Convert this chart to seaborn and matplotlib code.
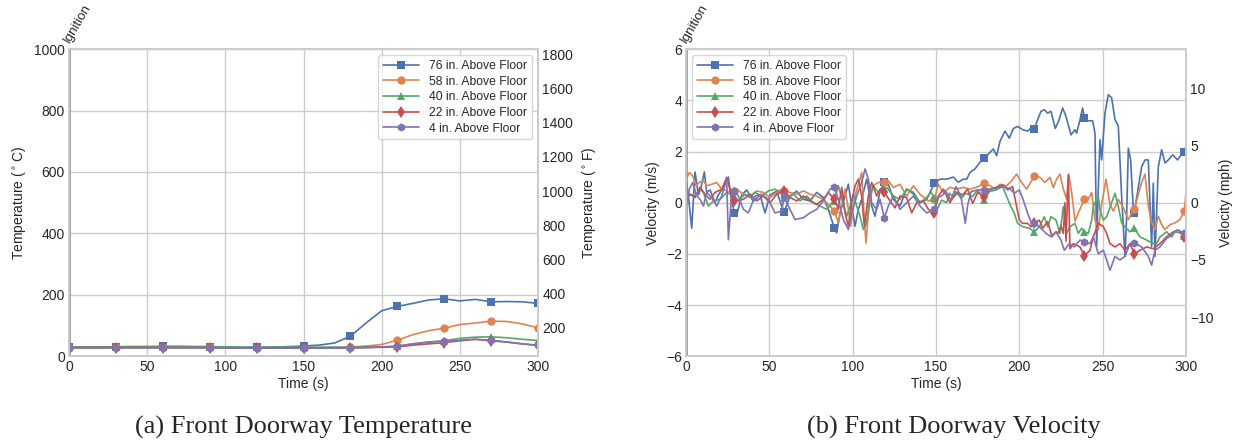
import numpy as np
import pandas as pd
import matplotlib
matplotlib.use("Agg")
import matplotlib.pyplot as plt
import seaborn as sns

sns.set_theme(style="whitegrid")
plt.rcParams['font.family'] = ['Liberation Sans', 'DejaVu Sans']

LABELS = ["76 in. Above Floor", "58 in. Above Floor", "40 in. Above Floor",
          "22 in. Above Floor", "4 in. Above Floor"]
MARKERS = ["s", "o", "^", "d", "h"]
COLORS = sns.color_palette("deep")[:5]

# ---------------- Temperature data (deg C), every 10 s ----------------
TEMP_TIME = list(range(0, 301, 10))
T76 = [30, 30, 30, 31, 31, 31, 32, 32, 31, 31, 30, 29, 29, 30, 31, 33, 36, 43, 65,
       108, 148, 162, 172, 183, 187, 180, 185, 177, 178, 177, 172]
T58 = [28, 28, 28, 29, 29, 29, 29, 29, 29, 29, 28, 27, 27, 28, 28, 28, 28, 29, 30,
       33, 38, 52, 70, 83, 91, 103, 108, 114, 113, 105, 92]
T40 = [30, 30, 30, 30, 31, 31, 31, 31, 31, 31, 30, 29, 29, 29, 29, 29, 29, 29, 29,
       30, 30, 33, 40, 46, 50, 58, 62, 63, 60, 55, 51]
T22 = [28, 28, 28, 28, 28, 28, 28, 28, 28, 28, 27, 27, 27, 27, 27, 27, 27, 27, 27,
       28, 29, 30, 36, 40, 44, 50, 55, 50, 46, 40, 35]
T4 = [27, 27, 27, 27, 27, 27, 27, 27, 27, 27, 27, 26, 26, 26, 26, 26, 26, 26, 27,
      28, 30, 32, 40, 46, 49, 52, 55, 52, 46, 40, 36]
TEMPS = [T76, T58, T40, T22, T4]

# ---------------- Velocity data (m/s), (time s, value) ----------------
V76 = [(0, 0.9), (1.5, 0.2), (3.4, -1.0), (5.4, 1.2), (7.4, 0.3), (9, 0.6), (11, 1.2),
       (12.4, 0.4), (14.4, 0.5), (17.4, 0.0), (19.4, 0.3), (22.4, 0.6), (25.4, 1.0),
       (27, 0.2), (29, -0.42), (30.4, -0.5), (33.4, 0.3), (36.4, 0.5), (40.4, 0.05),
       (44.4, 0.3), (47.4, -0.4), (50.4, 0.3), (54.4, 0.45), (57.4, -0.13), (59, -0.36),
       (62.4, 0.26), (66.4, 0.45), (70.4, 0.13), (74.4, 0.07), (78.4, 0.4), (82.4, 0.2),
       (85.4, -0.26), (89, -1.0), (90.4, -1.18), (92.4, -0.4), (95.4, 0.26), (97.4, 0.72),
       (99.4, -0.13), (101.4, -0.92), (103.4, -0.26), (105.4, 0.13), (108.4, 0.92),
       (111.4, -0.13), (113.4, -0.53), (116.4, 0.46), (119, 0.79), (121.4, 0.72),
       (124.4, 0.13), (128.4, -0.13), (132.4, 0.53), (136.4, 0.4), (140.4, 0.0),
       (144.4, 0.13), (149, 0.76), (152.4, 0.92), (156.4, 0.92), (160.4, 1.0),
       (163.4, 0.8), (166.4, 0.92), (168.4, 0.92), (170.4, 1.18), (173.4, 1.32),
       (176.4, 1.58), (179, 1.74), (181.4, 1.9), (184.4, 2.1), (186.4, 1.84),
       (188.4, 2.4), (191.4, 2.8), (194, 2.52), (196.4, 2.9), (199, 2.98), (202, 2.85),
       (205, 2.8), (207, 2.92), (209, 2.88), (211, 3.25), (213, 3.57), (215, 3.63),
       (217, 3.5), (219, 3.57), (221.6, 2.9), (223.6, 3.2), (226, 3.7), (228, 3.37),
       (230, 2.9), (231, 2.65), (233.4, 2.85), (234.4, 2.72), (236.4, 3.24), (238, 3.7),
       (239, 3.3), (241.4, 3.2), (244, 3.2), (245.4, 2.7), (246.4, -1.72), (247.4, 0.6),
       (248.4, 2.46), (249.4, 1.67), (251.4, 3.5), (253.4, 4.22), (255.4, 4.1),
       (257.4, 3.24), (259.4, 3.0), (261.4, 0.24), (263.4, -2.1), (264.4, -0.5),
       (265.4, 2.13), (266.8, 1.67), (268.4, -0.3), (269, -0.4), (271.4, 0.6),
       (273.4, 1.4), (275.4, 1.67), (277.4, 1.67), (279.4, -1.72), (280.4, 0.76),
       (281.4, -2.1), (283.4, 1.4), (285.4, 2.07), (287.4, 1.55), (289.4, 1.67),
       (292, 1.87), (295, 1.67), (297, 1.87), (299, 2.0), (300, 2.2)]

V58 = [(0, 0.92), (2, 1.18), (4, 1.05), (6, 0.66), (8, 0.8), (10.4, 0.86), (12.4, 0.66),
       (15.4, 0.72), (18.4, 0.79), (21.4, 0.53), (24.4, 0.46), (27.4, 0.4), (29, 0.45),
       (30.4, 0.53), (34.4, 0.33), (38.4, 0.26), (42.4, 0.46), (46.4, 0.4), (50.4, 0.2),
       (54.4, 0.4), (56.4, 0.5), (59, 0.45), (62.4, 0.4), (66.4, 0.33), (70.4, 0.46),
       (74.4, 0.33), (78.4, 0.26), (82.4, 0.13), (86.4, -0.13), (89, -0.34), (91.4, -0.79),
       (93.4, -0.13), (95.4, 0.53), (97.4, -0.26), (98.8, -0.92), (101.4, 0.26),
       (105.4, 1.18), (106.4, 0.0), (107.4, -1.05), (108, -1.58), (109.4, -0.4),
       (112, 0.66), (115.4, 0.79), (119, 0.82), (121.4, 0.86), (124.4, 0.6), (128.4, 0.72),
       (132.4, 0.26), (136.4, 0.66), (140.4, 0.33), (145.4, 0.07), (149, 0.13),
       (151.4, 0.72), (154.4, 0.4), (158.4, 0.6), (162.4, 0.53), (166.4, 0.6),
       (170.4, 0.53), (174.4, 0.6), (179, 0.76), (182.4, 0.66), (185.4, 0.53),
       (188.4, 0.72), (192.4, 0.66), (195.4, 0.86), (198.4, 1.12), (201.4, 0.79),
       (204.4, 0.53), (207.4, 0.86), (209, 1.05), (212.4, 0.99), (215.4, 0.79),
       (218.4, 0.99), (220.4, 0.59), (222.4, 0.92), (224.4, 1.12), (226.4, 0.53),
       (228.4, 0.13), (229.6, 1.12), (231.4, 0.4), (233.4, -0.72), (235.4, -0.4),
       (239, 0.13), (241.4, 0.13), (243.4, 0.4), (245.4, -0.66), (247.4, -1.05),
       (249.4, -0.07), (252, 0.92), (254.4, -0.07), (256.4, -0.33), (259.4, 0.13),
       (262.4, -0.2), (265.4, -0.66), (267.4, -0.4), (269, -0.26), (271.4, 0.33),
       (273.4, 0.79), (275.4, 1.12), (277.4, -0.13), (279.4, -0.79), (281.4, -1.05),
       (283.4, -0.53), (285.4, -0.86), (287.4, -1.05), (290.4, -0.86), (293.4, -0.79),
       (296.4, -0.66), (299, -0.33), (300, 0.4)]

V40 = [(0, 0.07), (2.4, 0.33), (5.4, 0.26), (8.4, 0.53), (10.4, 0.4), (13.4, -0.13),
       (16.4, 0.07), (20.4, 0.13), (24.4, 0.4), (29, 0.26), (31.4, 0.07), (35.4, 0.33),
       (38.4, 0.2), (41.4, 0.4), (45.4, 0.26), (49.4, 0.46), (53.4, 0.53), (56.4, 0.4),
       (59, 0.2), (60.4, 0.13), (64.4, 0.33), (68.4, 0.07), (72.4, 0.26), (76.4, 0.0),
       (80.4, -0.13), (84.4, -0.26), (89, 0.07), (91.4, 0.66), (94.4, -0.07),
       (96.4, -0.53), (98.4, -0.13), (100.4, 0.33), (102.4, -0.13), (104.4, -0.53),
       (106.4, -1.05), (108.4, -0.79), (110.4, 0.26), (112.4, 0.66), (115.4, 0.4),
       (119, 0.53), (120.4, 0.6), (124.4, 0.26), (128.4, 0.13), (132.4, 0.53),
       (136.4, 0.33), (140.4, 0.0), (144.4, 0.2), (147, 0.4), (149, 0.2), (150.4, -0.29),
       (153.4, 0.1), (156.4, 0.0), (158, 0.37), (160, 0.24), (162, 0.43), (165, 0.17),
       (168, 0.37), (172, 0.24), (175, 0.5), (179, 0.1), (182, 0.43), (186, 0.5),
       (190, 0.63), (192, 0.3), (195, -0.16), (197, -0.42), (199, -0.81), (202, -0.94),
       (206, -1.0), (209, -1.14), (212, -0.94), (215, -0.55), (217, -0.94), (219, -0.55),
       (222, -0.68), (224.4, -1.2), (226.4, -0.15), (228.4, -1.2), (230.4, -0.94),
       (233.4, -0.81), (235.4, -1.2), (237.4, -1.0), (239, -1.14), (241.4, -1.2),
       (243.4, -0.68), (244.4, -0.15), (246, 0.1), (247.4, 0.23), (248.4, -0.29),
       (250.4, -0.68), (252.4, -0.55), (255.4, 0.0), (257.4, 0.37), (259.4, -0.15),
       (261.4, -0.8), (263.4, -0.94), (266.4, -1.14), (269, -1.0), (272.4, -1.34),
       (276.4, -1.46), (280.4, -1.6), (282.4, -1.6), (284.4, -1.34), (288.4, -1.14),
       (291.4, -1.34), (293.4, -1.14), (297.4, -1.2), (299, -1.3), (300, -1.34)]

V22 = [(0, 0.2), (2.4, 0.33), (5.4, 0.2), (8.4, 0.6), (11.4, 0.33), (14.4, 0.13),
       (17.4, 0.4), (21.4, 0.53), (24.4, 0.99), (27.4, 0.26), (29, 0.07), (30.4, 0.07),
       (34.4, 0.13), (38.4, 0.33), (42.4, 0.07), (46.4, 0.26), (50.4, 0.0), (54.4, 0.33),
       (58.4, 0.46), (59, 0.45), (62.4, 0.2), (66.4, 0.07), (70.4, 0.26), (74.4, 0.07),
       (78.4, -0.07), (82.4, 0.13), (85.4, 0.4), (89, 0.13), (91.4, -0.26), (93.4, 0.6),
       (95.4, -0.4), (97.4, -0.92), (99.4, 0.0), (101.4, 0.66), (103.4, 0.92),
       (105.4, 0.26), (107, -0.92), (109.4, 0.26), (111.4, 0.79), (114.4, 0.26),
       (116.4, 0.53), (119, 0.4), (122.4, 0.07), (125.4, -0.2), (128.4, 0.26),
       (132.4, 0.2), (135.4, -0.4), (138.4, 0.0), (142.4, 0.07), (145.4, -0.26),
       (149, -0.4), (151.4, 0.26), (154.4, 0.53), (158.4, 0.0), (160, 0.17),
       (163, 0.4), (166, 0.3), (169, 0.53), (172, -0.03), (175, 0.4), (179, 0.24),
       (182, 0.5), (186, 0.6), (190, 0.69), (193, 0.5), (196, 0.63), (198, -0.03),
       (200, -0.68), (202, -0.81), (205, -0.81), (207, -0.94), (209, -0.81),
       (212, -0.68), (214, -1.0), (217, -0.74), (219.6, -1.33), (222, -1.14),
       (223.4, -1.18), (225, -0.9), (226.4, -1.2), (227.4, 0.0), (228, -1.5),
       (229.4, 1.08), (230.4, -1.8), (232.4, -1.6), (236.4, -1.73), (239, -2.08),
       (242.4, -1.86), (244.4, -1.33), (247.4, -0.8), (250.4, -0.94), (252.4, -1.2),
       (254.4, -1.6), (257.4, -1.73), (260.4, -1.6), (263.4, -1.86), (266.4, -1.6),
       (269, -2.0), (272.4, -1.86), (276.4, -1.73), (280.4, -1.8), (284.4, -1.6),
       (288.4, -1.33), (292.4, -1.14), (295.4, -1.07), (297.4, -1.2), (299, -1.34),
       (300, -1.4)]

V4 = [(0, -0.13), (2, 0.53), (4, 0.79), (6.4, 0.26), (8.4, 0.13), (10.4, -0.13),
      (12.4, 0.4), (15.4, 0.2), (18.4, -0.13), (21.4, 0.26), (24.4, 0.92), (25.4, -1.45),
      (27.4, 0.4), (29, 0.46), (31.4, 0.26), (34.4, -0.26), (37.4, -0.4), (41.4, 0.26),
      (45.4, 0.33), (49.4, 0.13), (53.4, -0.4), (57.4, -0.33), (59, 0.26), (61.4, -0.13),
      (65.4, -0.66), (70.4, -0.59), (74.4, -0.4), (78.4, -0.26), (82.4, 0.07),
      (86.4, 0.53), (89, 0.6), (91.4, 0.13), (94.4, -0.66), (97.4, -1.05),
      (99.4, -0.4), (102.4, 0.26), (105.4, 0.79), (107.4, 1.32), (109.4, 0.92),
      (111.4, 0.0), (114.4, -0.26), (116.4, 0.13), (119, -0.6), (121.4, -0.13),
      (124.4, 0.26), (128.4, -0.26), (132.4, 0.0), (136.4, 0.26), (140.4, -0.13),
      (144.4, -0.4), (149, -0.26), (151.4, 0.2), (154, 0.3), (156, 0.43), (159, 0.1),
      (162, 0.63), (165, 0.24), (167.6, -0.81), (169, -0.1), (171, 0.43), (175, 0.5),
      (179, 0.5), (185, 0.56), (190, 0.63), (194, 0.56), (197, 0.37), (200, 0.5),
      (202, 0.17), (205, -0.42), (207, -0.74), (209, -0.81), (212, -0.94),
      (216, -1.2), (219, -1.33), (222, -1.14), (225, -1.46), (227, -1.86),
      (230, -1.6), (233, -1.73), (236.4, -1.46), (239, -1.53), (242.4, -1.6),
      (244.4, -1.33), (247.4, -2.0), (250.4, -1.86), (252.4, -2.24), (254.4, -2.64),
      (257.4, -2.1), (260.4, -2.24), (263.4, -2.1), (266.4, -1.6), (269, -1.57),
      (273.4, -1.73), (277.4, -2.1), (279.4, -2.44), (281.4, -1.86), (284.4, -1.73),
      (288.4, -1.4), (291.4, -1.27), (294.4, -1.07), (297.4, -1.14), (299, -1.2),
      (300, -1.2)]
VELS = [V76, V58, V40, V22, V4]
VEL_MARK_T = [29, 59, 89, 119, 149, 179, 209, 239, 269, 299]

# ---------------- Figure ----------------
fig = plt.figure(figsize=(12.35, 4.43), dpi=100)
ax1 = fig.add_axes([0.0559, 0.196, 0.3797, 0.693])
ax2 = fig.add_axes([0.5555, 0.196, 0.4048, 0.693])

TICK_FS = 10
LAB_FS = 10
LEG_FS = 8.7
MS = 6

for lab, mk, col, vals in zip(LABELS, MARKERS, COLORS, TEMPS):
    sns.lineplot(x=TEMP_TIME, y=vals, ax=ax1, color=col, marker=mk, markevery=3,
                 markersize=MS, markeredgewidth=0, lw=1.2, label=lab)

for lab, mk, col, ser in zip(LABELS, MARKERS, COLORS, VELS):
    df = pd.DataFrame(ser, columns=["t", "v"])
    idx = [i for i, t in enumerate(df["t"]) if t in VEL_MARK_T]
    sns.lineplot(data=df, x="t", y="v", ax=ax2, color=col, marker=mk, markevery=idx,
                 markersize=MS, markeredgewidth=0, lw=1.2, label=lab)

# Axis (a)
ax1.set_xlim(0, 300)
ax1.set_ylim(0, 1000)
ax1.set_xticks(range(0, 301, 50))
ax1.set_yticks(range(0, 1001, 200))
ax1.set_xlabel("Time (s)", fontsize=LAB_FS, labelpad=2)
ax1.set_ylabel("Temperature ($^\\circ$C)", fontsize=LAB_FS, labelpad=4)
ax1.legend(loc="upper right", fontsize=LEG_FS, handlelength=3, borderpad=0.4,
           labelspacing=0.3, frameon=True)
ax1r = ax1.twinx()
ax1r.set_ylim(0 * 9 / 5 + 32, 1000 * 9 / 5 + 32)
ax1r.set_yticks(range(200, 1801, 200))
ax1r.grid(False)
ax1r.set_ylabel("Temperature ($^\\circ$F)", fontsize=LAB_FS, labelpad=5)

# Axis (b)
ax2.set_xlim(0, 300)
ax2.set_ylim(-6, 6)
ax2.set_xticks(range(0, 301, 50))
ax2.set_yticks(range(-6, 7, 2))
ax2.set_xlabel("Time (s)", fontsize=LAB_FS, labelpad=2)
ax2.set_ylabel("Velocity (m/s)", fontsize=LAB_FS, labelpad=4)
ax2.legend(loc="upper left", fontsize=LEG_FS, handlelength=3, borderpad=0.4,
           labelspacing=0.3, frameon=True)
ax2r = ax2.twinx()
ax2r.set_ylim(-6 * 2.23694, 6 * 2.23694)
ax2r.set_yticks([-10, -5, 0, 5, 10])
ax2r.grid(False)
ax2r.set_ylabel("Velocity (mph)", fontsize=LAB_FS, labelpad=4)

for ax in (ax1, ax1r, ax2, ax2r):
    ax.tick_params(labelsize=TICK_FS, length=0, pad=3)

for ax in (ax1, ax2):
    ax.axvline(0, color="0.55", lw=1.8, zorder=5)
    y0, y1 = ax.get_ylim()
    ax.text(1.5, y1 + (y1 - y0) * 0.012, "Ignition", rotation=60, fontsize=9.5,
            ha="left", va="bottom", rotation_mode="anchor", color="0.15")

fig.text(0.246, 0.034, "(a) Front Doorway Temperature", ha="center", va="center",
         fontsize=19, family="Liberation Serif")
fig.text(0.772, 0.034, "(b) Front Doorway Velocity", ha="center", va="center",
         fontsize=19, family="Liberation Serif")

fig.savefig("out.png", dpi=100)
